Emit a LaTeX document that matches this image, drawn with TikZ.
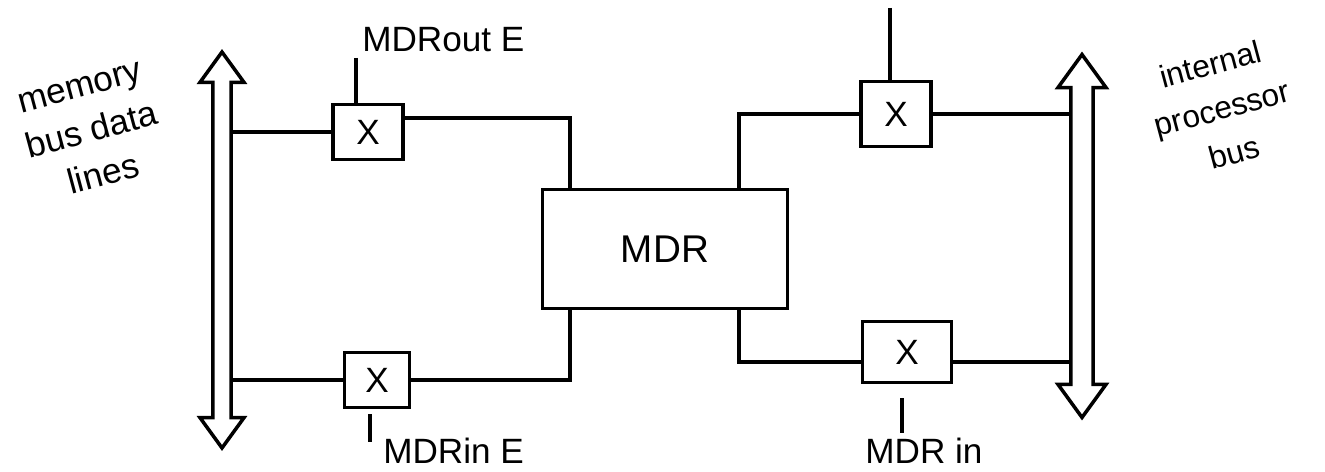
\documentclass[tikz,border=0pt]{standalone}
\usepackage{fontspec}
\setmainfont{Liberation Sans}
\usetikzlibrary{shapes.arrows}

\begin{document}
\begin{tikzpicture}[x=0.02cm,y=-0.02cm]

%%%%%%%%%%%%%%%%%%%%%%
%%%	  Def styles    %%%
%%%%%%%%%%%%%%%%%%%%%%

\def \trait{2pt}

\tikzset{
  fil/.style={line width=\trait},
  porte/.style={draw, line width=\trait, inner sep=0pt, font=\fontsize{20}{24}\selectfont},
  bus/.style={draw, line width=\trait, double arrow, shape border rotate=90,
    double arrow tip angle=72},
  etiquette/.style={inner sep=0pt, font=\fontsize{20}{26}\selectfont}
}

%%%%%%%%%%%%%%%%%%%%%%
%%%	  Def cadre     %%%
%%%%%%%%%%%%%%%%%%%%%%

\useasboundingbox (0,0) rectangle (1325,472);

%%%%%%%%%%%%%%%%%%%%%%
%%%	    Bus         %%%
%%%%%%%%%%%%%%%%%%%%%%

\node[bus, inner sep=0.14cm, minimum height=7.92cm, minimum width=0.88cm] (lbus) at (222,250) {};
\node[bus, inner sep=0.18cm, minimum height=7.26cm, minimum width=0.96cm] (rbus) at (1082,236) {};

%%%%%%%%%%%%%%%%%%%%%%
%%%	   Blocs        %%%
%%%%%%%%%%%%%%%%%%%%%%

\node[porte, minimum width=4.9cm, minimum height=2.38cm, font=\fontsize{22}{24}\selectfont] (mdr) at (665,249) {MDR};

\node[porte, minimum width=1.4cm, minimum height=1.1cm] (tl) at (368,132) {X};
\node[porte, minimum width=1.3cm, minimum height=1.1cm] (bl) at (377,380) {X};
\node[porte, minimum width=1.4cm, minimum height=1.3cm] (tr) at (896,114) {X};
\node[porte, minimum width=1.78cm, minimum height=1.22cm] (br) at (907,352) {X};

%%%%%%%%%%%%%%%%%%%%%%
%%%	   Liaisons     %%%
%%%%%%%%%%%%%%%%%%%%%%

% cote bus memoire
\draw[fil] (lbus.east |- tl.west) -- (tl.west);
\draw[fil] ([yshift=0.28cm]tl.east) -| ([xshift=0.58cm]mdr.north west);
\draw[fil] (lbus.east |- bl.west) -- (bl.west);
\draw[fil] (bl.east) -| ([xshift=0.58cm]mdr.south west);

% cote bus interne
\draw[fil] ([xshift=-1cm]mdr.north east) |- (tr.west);
\draw[fil] (tr.east) -- (tr.east -| rbus.west);
\draw[fil] ([xshift=-1cm]mdr.south east) |- ([yshift=-0.2cm]br.west);
\draw[fil] ([yshift=-0.2cm]br.east) -- ([yshift=-0.2cm]br.east -| rbus.west);

%%%%%%%%%%%%%%%%%%%%%%
%%%	  Commandes     %%%
%%%%%%%%%%%%%%%%%%%%%%

\coordinate (tlsig) at (356,58);
\coordinate (trsig) at (890,8);
\coordinate (blsig) at (370,442);
\coordinate (brsig) at (902,433);

\draw[fil] (tlsig) -- (tlsig |- tl.north);
\draw[fil] (trsig) -- (trsig |- tr.north);
\draw[fil, shorten >=0.1cm] (blsig) -- (blsig |- bl.south);
\draw[fil, shorten >=0.28cm] (brsig) -- (brsig |- br.south);

\node[etiquette, anchor=base west] (tllab) at (362,52) {MDRout E};
\node[etiquette, anchor=base west] (bllab) at (383,464) {MDRin E};
\node[etiquette, anchor=base west] (brlab) at (865,464) {MDR in};

%%%%%%%%%%%%%%%%%%%%%%
%%%	   Legendes     %%%
%%%%%%%%%%%%%%%%%%%%%%

\node[etiquette, align=center, rotate=15] (memlab) at (92,132) {memory\\bus data\\lines};
\node[etiquette, align=center, rotate=15, font=\fontsize{18}{26}\selectfont] (proclab) at (1222,108) {internal\\processor\\bus};

\end{tikzpicture}
\end{document}
